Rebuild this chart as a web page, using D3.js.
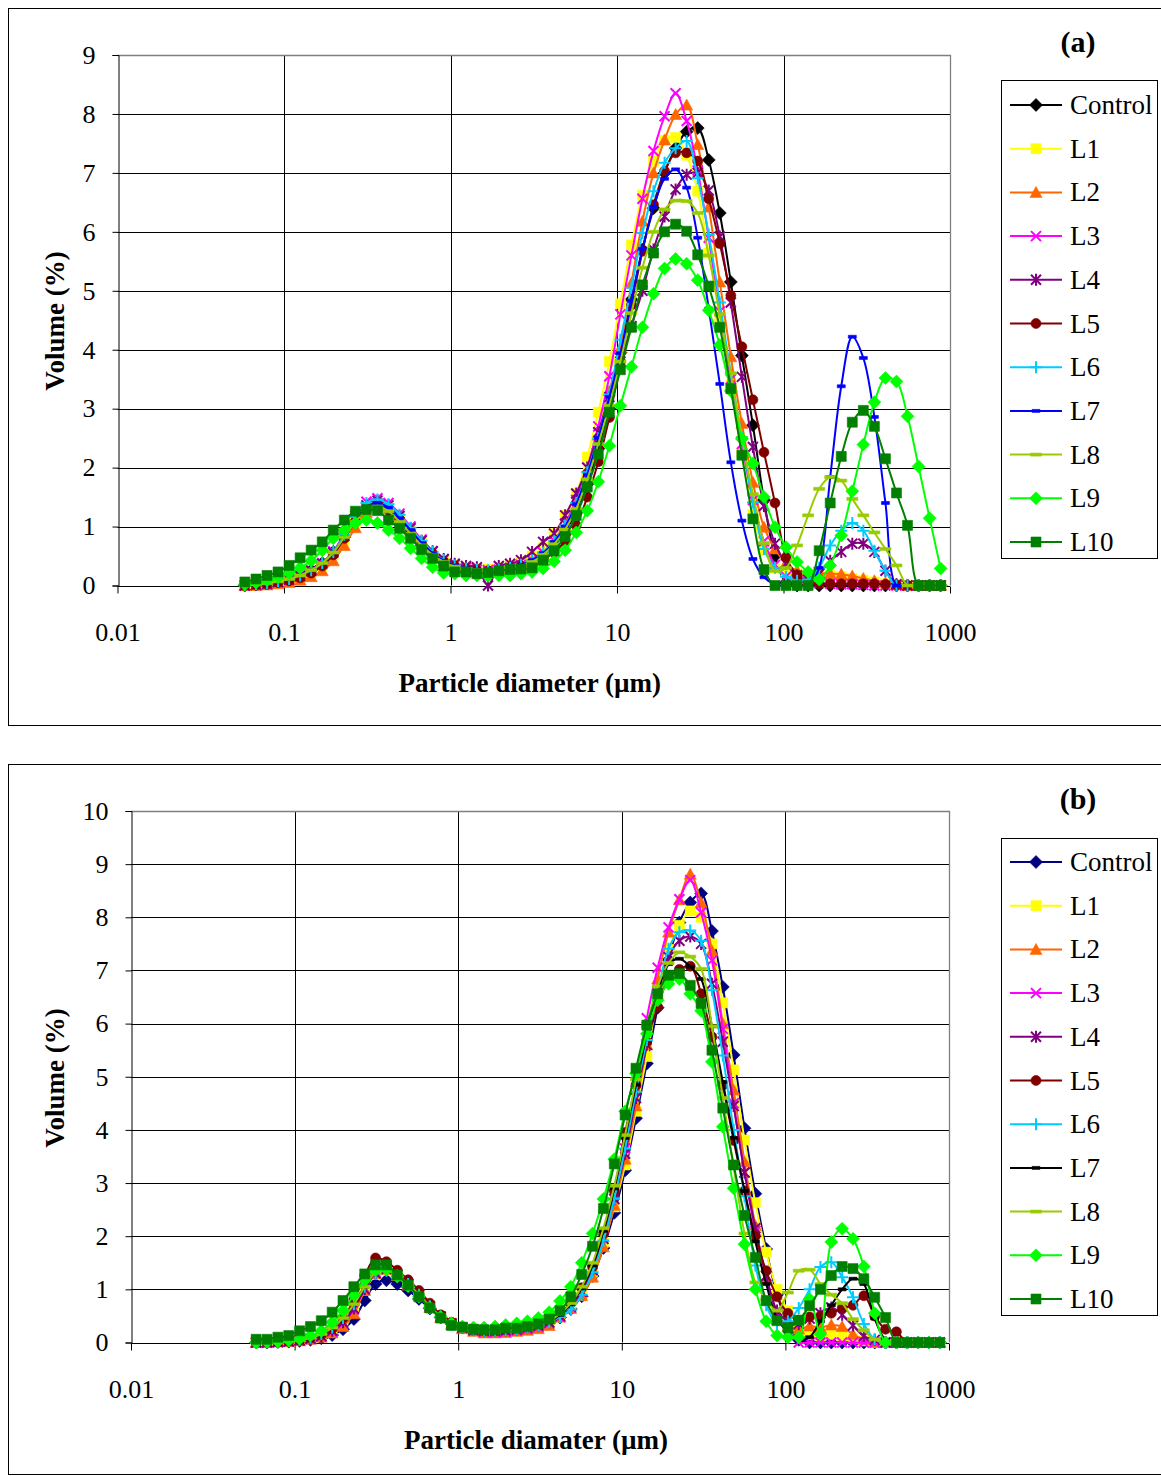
<!DOCTYPE html>
<html><head><meta charset="utf-8">
<script src="https://cdn.jsdelivr.net/npm/d3@7"></script>
<style>body{margin:0;background:#fff}</style>
</head><body>
<svg id="c" width="1161" height="1476" xmlns="http://www.w3.org/2000/svg"></svg>
<script>
// ---------- DATA ----------
const sizes = [0.0582,0.0679,0.0791,0.0921,0.1073,0.125,0.1456,0.1697,
 0.1977,0.2303,0.2683,0.3126,0.3641,0.4242,0.4942,0.5757,
 0.6707,0.7813,0.9102,1.06,1.24,1.44,1.68,1.95,
 2.28,2.65,3.09,3.60,4.19,4.88,5.69,6.63,
 7.72,9.00,10.48,12.21,14.22,16.57,19.31,22.49,
 26.20,30.53,35.56,41.43,48.27,56.23,65.51,76.32,
 88.91,103.58,120.67,140.58,163.77,190.80,222.28,258.95,
 301.68,351.46,409.45,477.01,555.71,647.41,754.23,878.67];
const seriesNames = ["Control","L1","L2","L3","L4","L5","L6","L7","L8","L9","L10"];
const xTicks = [0.01,0.1,1,10,100,1000];
const xTickLabels = ["0.01","0.1","1","10","100","1000"];
const yTicksA = [0,1,2,3,4,5,6,7,8,9];
const yTicksB = [0,1,2,3,4,5,6,7,8,9,10];

// Panel (a)
const a_Control = [0.00,0.02,0.04,0.07,0.11,0.17,0.26,0.38, 0.57,0.82,1.08,1.28,1.36,1.27,1.08,0.88, 0.68,0.52,0.40,0.32,0.28,0.26,0.25,0.26, 0.29,0.33,0.40,0.51,0.68,0.92,1.25,1.72, 2.32,3.00,3.95,4.85,5.70,6.40,7.00,7.42, 7.70,7.76,7.22,6.32,5.15,3.90,2.72,1.45, 0.50,0.05,0,0,0,0,0,0, 0,0,0,0,0,0,0,0];
const a_L1 = [0.00,0.01,0.03,0.05,0.09,0.14,0.22,0.34, 0.52,0.78,1.06,1.30,1.40,1.32,1.14,0.93, 0.72,0.55,0.42,0.34,0.30,0.28,0.28,0.30, 0.34,0.40,0.50,0.64,0.88,1.19,1.56,2.18, 2.94,3.80,4.78,5.78,6.62,7.20,7.55,7.60, 7.30,6.69,5.64,4.55,3.40,2.25,1.20,0.60, 0.30,0.22,0.20,0.19,0.18,0.17,0.15,0.12, 0.09,0.06,0.03,0.01,0,0,0,0];
const a_L2 = [0.00,0.00,0.01,0.03,0.05,0.09,0.15,0.25, 0.42,0.68,0.98,1.24,1.36,1.30,1.12,0.92, 0.71,0.54,0.41,0.33,0.28,0.26,0.25,0.26, 0.29,0.33,0.41,0.53,0.72,0.98,1.35,1.88, 2.55,3.30,4.03,5.13,6.18,7.00,7.56,7.99, 8.15,7.48,6.42,5.15,3.88,2.75,1.75,0.99, 0.62,0.38,0.25,0.22,0.21,0.20,0.19,0.16, 0.12,0.08,0.05,0.02,0,0,0,0];
const a_L3 = [0.00,0.01,0.03,0.06,0.10,0.16,0.25,0.38, 0.58,0.88,1.18,1.42,1.48,1.40,1.22,1.00, 0.78,0.58,0.44,0.35,0.30,0.27,0.26,0.27, 0.30,0.35,0.43,0.56,0.76,1.05,1.45,2.00, 2.70,3.55,4.60,5.60,6.56,7.37,7.96,8.35, 7.88,7.04,5.90,4.65,3.50,2.40,1.45,0.75, 0.35,0.15,0.08,0.05,0.04,0.03,0.02,0.02, 0.01,0,0,0,0,0,0,0];
const a_L4 = [0.00,0.01,0.03,0.06,0.10,0.16,0.25,0.37, 0.56,0.84,1.12,1.36,1.44,1.36,1.18,0.97, 0.76,0.58,0.45,0.37,0.33,0.31,0.00,0.33, 0.37,0.43,0.57,0.74,0.88,1.19,1.56,2.00, 2.60,3.20,3.80,4.40,5.00,5.70,6.26,6.72, 6.97,7.00,6.70,5.92,4.80,3.54,2.35,1.35, 0.71,0.37,0.17,0.10,0.20,0.42,0.57,0.71, 0.71,0.57,0.25,0.02,0,0,0,0];
const a_L5 = [0.00,0.01,0.02,0.05,0.08,0.13,0.21,0.33, 0.52,0.80,1.08,1.30,1.38,1.30,1.12,0.92, 0.71,0.54,0.41,0.33,0.28,0.26,0.25,0.26, 0.28,0.31,0.36,0.44,0.56,0.75,1.02,1.50, 2.10,2.85,3.80,4.76,5.67,6.46,7.03,7.34, 7.34,7.20,6.56,5.80,4.92,4.05,3.15,2.26, 1.40,0.48,0.18,0.05,0.03,0.03,0.03,0.03, 0.03,0.03,0.02,0.01,0,0,0,0];
const a_L6 = [0.00,0.02,0.04,0.07,0.11,0.17,0.26,0.38, 0.57,0.86,1.16,1.40,1.46,1.38,1.20,0.98, 0.76,0.57,0.43,0.34,0.29,0.27,0.26,0.27, 0.30,0.35,0.43,0.56,0.75,1.02,1.40,1.92, 2.50,3.24,4.17,5.05,5.98,6.69,7.17,7.42, 7.54,6.91,5.95,4.80,3.60,2.52,1.41,0.62, 0.30,0.15,0.08,0.10,0.30,0.68,0.93,1.06, 0.93,0.59,0.25,0.00,0,0,0,0];
const a_L7 = [0.00,0.02,0.04,0.07,0.11,0.17,0.26,0.38, 0.56,0.82,1.10,1.33,1.40,1.32,1.14,0.94, 0.72,0.55,0.42,0.34,0.29,0.27,0.26,0.27, 0.30,0.35,0.43,0.55,0.74,1.00,1.38,1.88, 2.50,3.20,3.94,4.83,5.71,6.42,6.90,7.06, 6.75,5.90,4.70,3.42,2.09,1.10,0.45,0.14, 0.02,0,0,0,0.30,1.84,3.38,4.22, 3.86,2.86,1.40,0,0,0,0,0];
const a_L8 = [0.00,0.02,0.04,0.07,0.11,0.17,0.26,0.38, 0.56,0.82,1.08,1.28,1.34,1.26,1.08,0.88, 0.68,0.52,0.40,0.32,0.28,0.26,0.25,0.26, 0.29,0.33,0.40,0.52,0.70,0.95,1.30,1.80, 2.40,3.05,3.80,4.62,5.39,6.00,6.38,6.53, 6.52,6.32,5.60,4.60,3.60,2.50,1.55,0.72, 0.25,0.30,0.68,1.19,1.64,1.84,1.78,1.47, 1.19,0.90,0.62,0.34,0.00,0,0,0];
const a_L9 = [0.02,0.05,0.09,0.14,0.21,0.30,0.42,0.60, 0.80,0.94,1.06,1.11,1.06,0.94,0.80,0.63, 0.46,0.31,0.21,0.20,0.17,0.17,0.16,0.17, 0.17,0.20,0.23,0.29,0.41,0.60,0.90,1.27, 1.76,2.37,3.05,3.71,4.38,4.95,5.38,5.54, 5.46,5.18,4.67,4.08,3.30,2.49,2.07,1.50, 0.99,0.65,0.40,0.23,0.10,0.34,0.85,1.60, 2.39,3.11,3.52,3.46,2.87,2.02,1.14,0.29];
const a_L10 = [0.06,0.11,0.17,0.23,0.34,0.47,0.60,0.74, 0.94,1.11,1.26,1.29,1.27,1.11,0.97,0.80, 0.61,0.46,0.33,0.23,0.23,0.20,0.22,0.25, 0.27,0.28,0.30,0.43,0.59,0.83,1.19,1.67, 2.23,2.94,3.66,4.38,5.10,5.64,6.00,6.13, 6.01,5.61,5.08,4.38,3.34,2.21,1.13,0.27, 0,0,0,0,0.59,1.40,2.19,2.77, 2.97,2.70,2.15,1.57,1.02,0,0,0];

// Panel (b)
const b_Control = [0.00,0.00,0.01,0.02,0.03,0.05,0.08,0.14, 0.25,0.44,0.79,1.10,1.17,1.10,0.98,0.82, 0.64,0.47,0.35,0.28,0.24,0.22,0.21,0.22, 0.24,0.27,0.31,0.37,0.47,0.63,0.87,1.25, 1.78,2.44,3.24,4.22,5.25,6.30,7.20,7.90, 8.28,8.45,7.74,6.69,5.41,4.03,2.80,1.76, 0.90,0.35,0.05,0,0,0,0,0, 0,0,0,0,0,0,0,0];
const b_L1 = [0.00,0.01,0.01,0.02,0.04,0.07,0.12,0.22, 0.38,0.62,0.98,1.28,1.36,1.26,1.10,0.90, 0.68,0.49,0.36,0.28,0.24,0.22,0.21,0.22, 0.24,0.27,0.31,0.37,0.48,0.66,0.92,1.32, 1.88,2.55,3.34,4.35,5.38,6.50,7.40,7.85, 8.12,8.00,7.50,6.39,5.13,3.81,2.63,1.70, 1.00,0.60,0.30,0.15,0.12,0.15,0.12,0.08, 0.03,0,0,0,0,0,0,0];
const b_L2 = [0.00,0.00,0.01,0.02,0.03,0.06,0.10,0.18, 0.30,0.54,0.98,1.30,1.38,1.26,1.08,0.88, 0.66,0.47,0.34,0.26,0.21,0.18,0.18,0.19, 0.21,0.23,0.26,0.32,0.48,0.64,0.88,1.23, 1.80,2.58,3.45,4.45,5.60,6.84,7.72,8.33, 8.81,8.28,7.37,6.00,4.75,3.40,2.20,1.20, 0.55,0.30,0.25,0.31,0.28,0.33,0.30,0.15, 0.06,0,0,0,0,0,0,0];
const b_L3 = [0.00,0.00,0.01,0.02,0.04,0.07,0.12,0.21, 0.36,0.62,1.02,1.32,1.40,1.28,1.10,0.90, 0.68,0.48,0.35,0.27,0.22,0.20,0.19,0.20, 0.22,0.25,0.29,0.36,0.48,0.66,0.95,1.38, 1.98,2.78,3.65,4.90,6.10,7.05,7.81,8.34, 8.70,8.09,7.19,5.90,4.50,3.20,2.10,1.25, 0.55,0.20,0,0,0,0,0,0, 0,0,0,0,0,0,0,0];
const b_L4 = [0.00,0.00,0.01,0.02,0.04,0.07,0.12,0.22, 0.38,0.64,1.00,1.30,1.38,1.27,1.10,0.90, 0.68,0.49,0.36,0.28,0.24,0.22,0.22,0.23, 0.25,0.28,0.32,0.38,0.50,0.68,0.96,1.36, 1.95,2.70,3.55,4.60,5.60,6.55,7.25,7.56, 7.64,7.50,6.75,5.66,4.45,3.20,2.15,1.25, 0.60,0.40,0.35,0.45,0.55,0.66,0.52,0.32, 0.12,0.05,0,0,0,0,0,0];
const b_L5 = [0.00,0.00,0.01,0.02,0.04,0.08,0.14,0.26, 0.45,0.80,1.26,1.59,1.52,1.36,1.18,0.98, 0.74,0.52,0.38,0.29,0.24,0.22,0.22,0.24, 0.27,0.30,0.35,0.42,0.55,0.74,1.03,1.42, 2.05,2.85,3.95,4.84,5.66,6.31,6.85,7.02, 7.08,6.56,5.75,4.84,3.80,2.85,2.00,1.35, 0.86,0.55,0.42,0.48,0.50,0.55,0.65,0.70, 0.88,0.50,0.25,0.20,0,0,0,0];
const b_L6 = [0.00,0.01,0.02,0.03,0.05,0.09,0.16,0.28, 0.46,0.72,1.05,1.30,1.35,1.26,1.10,0.90, 0.68,0.49,0.36,0.28,0.24,0.22,0.22,0.23, 0.25,0.28,0.32,0.38,0.48,0.62,0.90,1.32, 1.92,2.71,3.65,4.72,5.69,6.60,7.41,7.72, 7.75,7.56,6.63,5.40,4.00,2.75,1.45,0.70, 0.35,0.40,0.65,1.00,1.42,1.51,1.23,0.85, 0.35,0.06,0,0,0,0,0,0];
const b_L7 = [0.00,0.01,0.02,0.03,0.05,0.09,0.16,0.28, 0.46,0.72,1.05,1.32,1.36,1.26,1.10,0.90, 0.68,0.49,0.36,0.28,0.24,0.22,0.22,0.23, 0.25,0.28,0.32,0.39,0.52,0.72,1.02,1.45, 2.10,2.90,3.85,4.85,5.80,6.60,7.12,7.22, 7.07,6.84,5.95,4.90,3.85,2.85,1.90,1.10, 0.45,0.20,0.05,0.10,0.40,0.70,1.00,1.20, 1.10,0.45,0.05,0,0,0,0,0];
const b_L8 = [0.00,0.01,0.02,0.03,0.05,0.09,0.16,0.28, 0.46,0.72,1.05,1.32,1.36,1.26,1.10,0.90, 0.68,0.49,0.36,0.28,0.24,0.22,0.22,0.23, 0.25,0.28,0.32,0.40,0.54,0.74,1.05,1.50, 2.15,2.95,3.90,4.95,5.95,6.70,7.14,7.34, 7.26,7.03,5.95,4.60,3.30,2.05,1.13,0.80, 0.60,0.94,1.35,1.37,1.10,0.90,0.74,0.44, 0.23,0.06,0,0,0,0,0,0];
const b_L9 = [0.00,0.01,0.02,0.04,0.07,0.13,0.22,0.38, 0.60,0.90,1.18,1.36,1.38,1.24,1.06,0.86, 0.66,0.48,0.36,0.30,0.28,0.28,0.30,0.33, 0.36,0.40,0.46,0.57,0.78,1.05,1.50,2.05, 2.70,3.45,4.35,5.06,5.81,6.44,6.75,6.84, 6.56,6.24,5.28,4.06,2.90,1.85,1.00,0.40, 0.13,0.10,0.10,0.82,0.16,1.89,2.14,1.95, 1.43,0.55,0,0,0,0,0,0];
const b_L10 = [0.06,0.06,0.10,0.13,0.22,0.30,0.41,0.57, 0.79,1.05,1.29,1.46,1.46,1.27,1.08,0.86, 0.65,0.46,0.32,0.29,0.25,0.24,0.24,0.27, 0.27,0.30,0.35,0.44,0.60,0.86,1.28,1.81, 2.52,3.36,4.28,5.16,5.97,6.56,6.91,6.94, 6.72,6.38,5.50,4.41,3.34,2.39,1.60,0.79, 0.41,0.28,0.42,0.69,1.00,1.26,1.43,1.39, 1.20,0.85,0.47,0,0,0,0,0];

const colorsA = ["#000000","#FFFF00","#FF6600","#FF00FF","#800080","#800000","#00CCFF","#0000FF","#99CC00","#00FF00","#008000"];
const colorsB = ["#000080","#FFFF00","#FF6600","#FF00FF","#800080","#800000","#00CCFF","#000000","#99CC00","#00FF00","#008000"];
const markerTypes = ["diamond","square","triangle","x","asterisk","circle","plus","dashS","dashL","diamond","square"];

// ---------- DRAWING ----------
const FONT = "'Liberation Serif','Times New Roman',serif";
const svg = d3.select("#c");

function markerD(t, x, y) {
  switch (t) {
    case "diamond": return `M${x},${y-6.5}L${x+6.5},${y}L${x},${y+6.5}L${x-6.5},${y}Z`;
    case "square": return `M${x-5},${y-5}h10v10h-10Z`;
    case "triangle": return `M${x},${y-6}L${x+6},${y+5}L${x-6},${y+5}Z`;
    case "x": return `M${x-5},${y-5}L${x+5},${y+5}M${x-5},${y+5}L${x+5},${y-5}`;
    case "asterisk": return `M${x-5},${y-5}L${x+5},${y+5}M${x-5},${y+5}L${x+5},${y-5}M${x},${y-6}L${x},${y+6}`;
    case "circle": return `M${x-5},${y}a5,5 0 1,0 10,0a5,5 0 1,0 -10,0Z`;
    case "plus": return `M${x-6},${y}L${x+6},${y}M${x},${y-6}L${x},${y+6}`;
    case "dashS": return `M${x-4},${y-1.5}h8v3h-8Z`;
    case "dashL": return `M${x-5.5},${y-1.5}h11v3h-11Z`;
  }
}
const strokeOnly = t => (t === "x" || t === "asterisk" || t === "plus");

function panel(cfg) {
  const g = svg.append("g");
  g.append("rect").attr("x", cfg.frame[0]).attr("y", cfg.frame[1]).attr("width", cfg.frame[2]).attr("height", cfg.frame[3])
    .attr("fill", "#fff").attr("stroke", "#000").attr("stroke-width", 1);

  const x = d3.scaleLog().domain([0.01, 1000]).range([cfg.l, cfg.r]);
  const y = d3.scaleLinear().domain([0, cfg.yMax]).range([cfg.b, cfg.t]);

  const grid = g.append("g");
  grid.selectAll("line.h").data(cfg.yTicks.filter(v => v > 0 && v < cfg.yMax)).join("line")
    .attr("x1", cfg.l).attr("x2", cfg.r).attr("y1", d => Math.round(y(d)) + 0.5).attr("y2", d => Math.round(y(d)) + 0.5)
    .attr("stroke", "#000").attr("stroke-width", 1);
  grid.selectAll("line.v").data(xTicks.filter(v => v > 0.01 && v < 1000)).join("line")
    .attr("y1", cfg.t).attr("y2", cfg.b).attr("x1", d => Math.round(x(d)) + 0.5).attr("x2", d => Math.round(x(d)) + 0.5)
    .attr("stroke", "#000").attr("stroke-width", 1);
  g.append("path").attr("d", `M${cfg.l},${Math.round(cfg.t)+0.5}H${Math.round(cfg.r)+0.5}V${cfg.b}`)
    .attr("fill", "none").attr("stroke", "#808080").attr("stroke-width", 1.3);

  const ax = g.append("g").attr("transform", `translate(0,${Math.round(cfg.b)+0.5})`)
    .call(d3.axisBottom(x).tickValues(xTicks).tickFormat((d, i) => xTickLabels[i]).tickSize(7).tickPadding(29));
  const ay = g.append("g").attr("transform", `translate(${Math.round(cfg.l)+0.5},0)`)
    .call(d3.axisLeft(y).tickValues(cfg.yTicks).tickFormat(d3.format("d")).tickSize(6).tickPadding(17));
  [ax, ay].forEach(a => {
    a.select(".domain").attr("stroke", "#000").attr("stroke-width", 1);
    a.selectAll(".tick line").attr("stroke", "#000");
    a.selectAll("text").attr("font-family", FONT).attr("font-size", 26).attr("fill", "#000");
  });
  ax.select(".domain").attr("d", `M${cfg.l},0H${cfg.r}`);

  g.append("text").attr("x", (cfg.l + cfg.r) / 2 - 4).attr("y", cfg.xTitleY).attr("text-anchor", "middle")
    .attr("font-family", FONT).attr("font-size", 27).attr("font-weight", "bold").text(cfg.xTitle);
  g.append("text").attr("transform", `translate(64,${cfg.yTitleY}) rotate(-90)`).attr("text-anchor", "middle")
    .attr("font-family", FONT).attr("font-size", 27).attr("font-weight", "bold").text("Volume (%)");
  g.append("text").attr("x", 1078).attr("y", cfg.labelY).attr("text-anchor", "middle")
    .attr("font-family", FONT).attr("font-size", 30).attr("font-weight", "bold").text(cfg.label);

  const line = d3.line().x((d, i) => x(sizes[i])).y(d => y(d)).curve(d3.curveCatmullRom.alpha(0.5));
  cfg.data.forEach((vals, si) => {
    const c = cfg.colors[si], t = markerTypes[si];
    const sg = g.append("g");
    sg.append("path").attr("d", line(vals)).attr("fill", "none").attr("stroke", c).attr("stroke-width", 2);
    sg.selectAll("path.m").data(vals).join("path").attr("class", "m")
      .attr("d", (d, i) => markerD(t, x(sizes[i]), y(d)))
      .attr("fill", strokeOnly(t) ? "none" : c)
      .attr("stroke", c).attr("stroke-width", strokeOnly(t) ? 2 : 0.6);
  });

  const lg = g.append("g");
  lg.append("rect").attr("x", 1001.5).attr("y", cfg.legTop + 0.5).attr("width", 156).attr("height", cfg.legH)
    .attr("fill", "#fff").attr("stroke", "#000").attr("stroke-width", 1);
  seriesNames.forEach((n, si) => {
    const ry = cfg.legFirst + si * 43.7;
    const c = cfg.colors[si], t = markerTypes[si];
    lg.append("line").attr("x1", 1010).attr("x2", 1062).attr("y1", ry).attr("y2", ry).attr("stroke", c).attr("stroke-width", 2);
    lg.append("path").attr("d", markerD(t, 1036, ry)).attr("fill", strokeOnly(t) ? "none" : c)
      .attr("stroke", c).attr("stroke-width", strokeOnly(t) ? 2 : 0.6);
    lg.append("text").attr("x", 1070).attr("y", ry + 9).attr("font-family", FONT).attr("font-size", 27).text(n);
  });
}

panel({
  frame: [8.5, 8.5, 1200, 717], l: 117.5, r: 950, t: 55, b: 585.5, yMax: 9, yTicks: yTicksA,
  data: [a_Control, a_L1, a_L2, a_L3, a_L4, a_L5, a_L6, a_L7, a_L8, a_L9, a_L10], colors: colorsA,
  xTitle: "Particle diameter (µm)", xTitleY: 692, yTitleY: 321, label: "(a)", labelY: 52,
  legTop: 80, legH: 478, legFirst: 105
});
panel({
  frame: [8.5, 764.5, 1200, 710], l: 131, r: 949, t: 811, b: 1342.5, yMax: 10, yTicks: yTicksB,
  data: [b_Control, b_L1, b_L2, b_L3, b_L4, b_L5, b_L6, b_L7, b_L8, b_L9, b_L10], colors: colorsB,
  xTitle: "Particle diamater (µm)", xTitleY: 1449, yTitleY: 1078, label: "(b)", labelY: 809,
  legTop: 838, legH: 477, legFirst: 862
});
</script>
</body></html>
